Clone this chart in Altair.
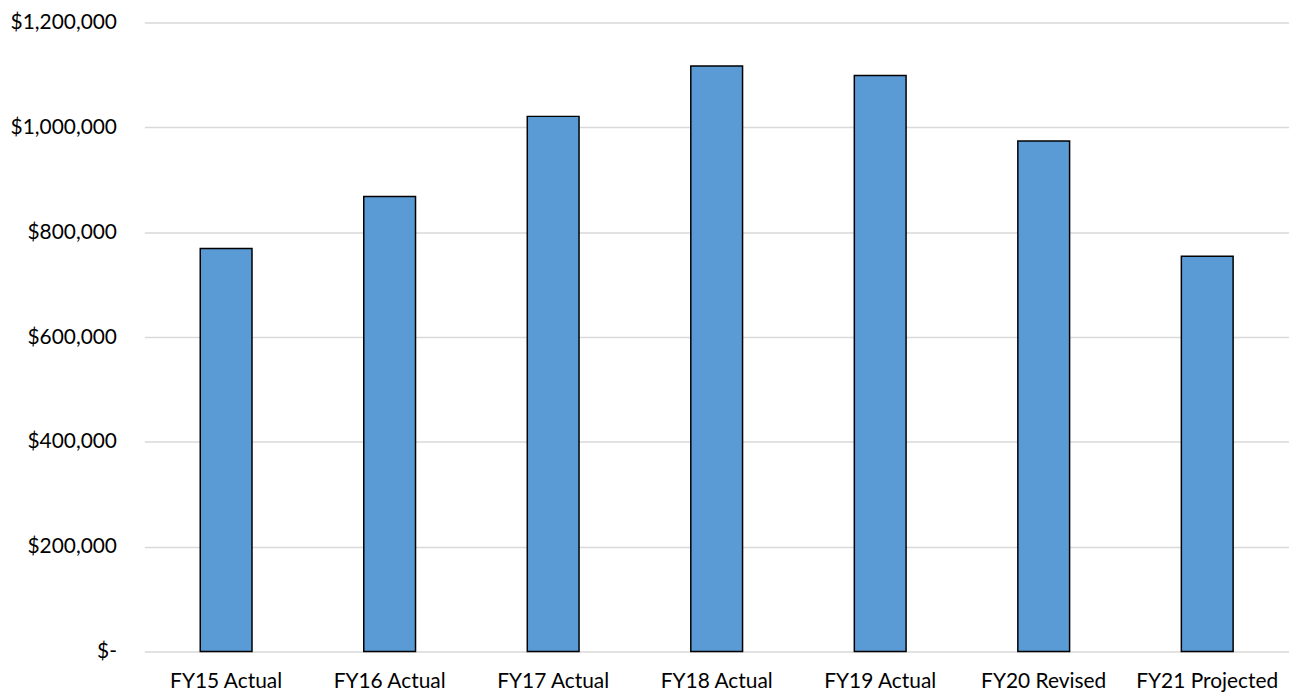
import altair as alt
import pandas as pd

categories = ["FY15 Actual", "FY16 Actual", "FY17 Actual", "FY18 Actual",
              "FY19 Actual", "FY20 Revised", "FY21 Projected"]
values = [769000, 868000, 1021000, 1117000, 1099000, 974000, 754000]
y_ticks = [0, 200000, 400000, 600000, 800000, 1000000, 1200000]

df = pd.DataFrame({"category": categories, "value": values})

FONT = "Lato"

chart = alt.Chart(df).mark_bar(
    width=52, color="#5B9BD5", stroke="#000000", strokeWidth=1.5
).encode(
    x=alt.X("category:N", sort=categories, title=None,
            scale=alt.Scale(paddingInner=0, paddingOuter=0),
            axis=alt.Axis(labelAngle=0, ticks=False, domain=False,
                          labelPadding=19, labelFontSize=21, labelFont=FONT,
                          labelColor="#000000", grid=False)),
    y=alt.Y("value:Q", title=None,
            scale=alt.Scale(domain=[0, 1200000], nice=False),
            axis=alt.Axis(values=y_ticks, ticks=False, domain=False,
                          labelPadding=28, labelFontSize=21, labelFont=FONT,
                          labelColor="#000000", gridColor="#D9D9D9",
                          gridWidth=1.5,
                          labelExpr="datum.value == 0 ? '$-' : '$' + format(datum.value, ',')")),
).properties(
    width=1150, height=632,
    autosize=alt.AutoSizeParams(type="none"),
    padding={"left": 137, "top": 13, "right": 0, "bottom": 42},
).configure_view(stroke=None)

chart.save("out.html", embed_options={"renderer": "svg", "actions": False})
